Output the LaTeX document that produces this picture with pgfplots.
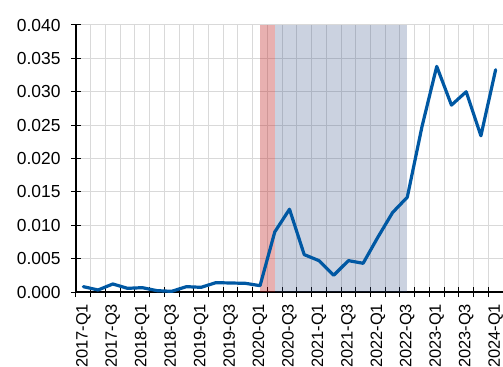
\documentclass[border=0pt]{standalone}
\usepackage{fontspec}
\setmainfont{Liberation Sans}
\usepackage{pgfplots}
\pgfplotsset{compat=1.18}

\definecolor{lineblue}{RGB}{0,88,163}
\definecolor{gridgray}{RGB}{217,217,217}
\definecolor{shadeblue}{RGB}{47,75,131}
\definecolor{shadered}{RGB}{189,29,29}

\begin{document}
\begin{tikzpicture}
\begin{axis}[
  name=ax,
  scale only axis,
  width=427bp, height=267bp,
  xmin=-0.5, xmax=28.5,
  ymin=0, ymax=0.04,
  axis lines*=left,
  axis line style={black, line width=1.1bp},
  xtick={0,2,...,28},
  xticklabels={2017-Q1,2017-Q3,2018-Q1,2018-Q3,2019-Q1,2019-Q3,2020-Q1,2020-Q3,
               2021-Q1,2021-Q3,2022-Q1,2022-Q3,2023-Q1,2023-Q3,2024-Q1},
  minor xtick={-0.5,0.5,...,28.5},
  ytick={0,0.005,...,0.04},
  tick align=center,
  major tick length=10bp,
  minor tick length=10bp,
  major x tick style={draw=none},
  tick style={black, line width=1bp},
  xmajorgrids=false, xminorgrids=true, ymajorgrids=true,
  grid style={gridgray, line width=1bp},
  minor grid style={gridgray, line width=1bp},
  yticklabel style={font=\fontsize{17.5}{20}\selectfont},
  xticklabel style={font=\fontsize{16.5}{19}\selectfont, rotate=90, anchor=east, xshift=-3.5bp},
  yticklabel shift=7bp,
  /pgf/number format/assume math mode=true,
  yticklabel style={/pgf/number format/fixed, /pgf/number format/fixed zerofill,
                    /pgf/number format/precision=3},
  scaled y ticks=false,
  clip=false,
]
% recession / stress periods
\addplot[draw=none, fill=shadered, fill opacity=0.35] coordinates {(12,0.04) (13,0.04)} \closedcycle;
\addplot[draw=none, fill=shadeblue, fill opacity=0.25] coordinates {(13,0.04) (22,0.04)} \closedcycle;
% quarterly series
\addplot[lineblue, line width=3.2bp, line join=round, line cap=round] coordinates {
  (0,0.0008) (1,0.0003) (2,0.0012) (3,0.00055) (4,0.00065) (5,0.0002) (6,0.0001)
  (7,0.0008) (8,0.0007) (9,0.0014) (10,0.00135) (11,0.0013) (12,0.00095)
  (13,0.0090) (14,0.0124) (15,0.0056) (16,0.0047) (17,0.0025) (18,0.0047)
  (19,0.0043) (20,0.0082) (21,0.0119) (22,0.0142) (23,0.0248) (24,0.0338)
  (25,0.0280) (26,0.0300) (27,0.0234) (28,0.0333)
};
\end{axis}
\pgfresetboundingbox
\path[use as bounding box] ([xshift=-76bp,yshift=-75bp]ax.south west) rectangle ([yshift=25bp]ax.north east);
\end{tikzpicture}
\end{document}
